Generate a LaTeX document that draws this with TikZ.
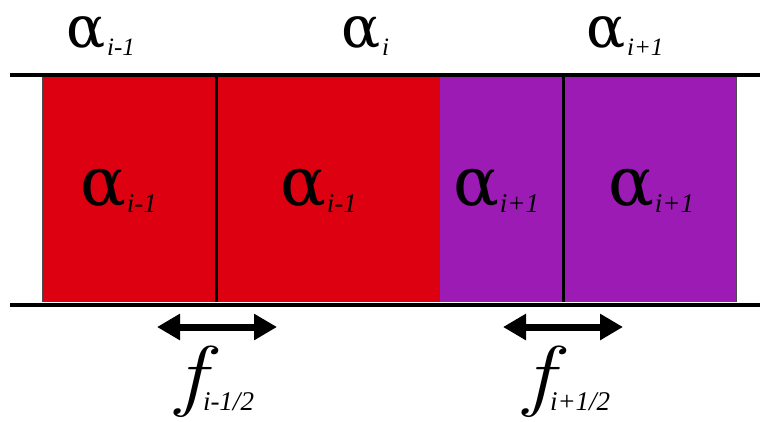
\documentclass[tikz,border=0pt]{standalone}
\usepackage{fontspec}
\setmainfont{Liberation Serif}
\newfontfamily\alphafont{DejaVu Serif}
\newfontfamily\ffont{Latin Modern Roman}
\usetikzlibrary{arrows.meta}
\definecolor{cellred}{RGB}{221,0,16}
\definecolor{cellpurple}{RGB}{155,27,180}
\newcommand{\toplab}[1]{\raisebox{0pt}[36pt][0pt]{\fontsize{58}{58}\alphafont α}\kern2pt\raisebox{-8pt}{\fontsize{25}{25}\selectfont\itshape #1}}
\newcommand{\inlab}[1]{\raisebox{0pt}[42pt][0pt]{\fontsize{68}{68}\alphafont α}\kern1pt\raisebox{-7pt}{\fontsize{27}{27}\selectfont\itshape #1}}
\newcommand{\fglyph}{\makebox[21pt][l]{\raisebox{0pt}[56pt][16pt]{\scalebox{1.2}[1]{\fontsize{79}{79}\ffont\itshape f}}}}
\begin{document}
\begin{tikzpicture}[x=1pt,y=-1pt,
  rail/.style={line width=4pt},
  divider/.style={line width=3pt},
  cellfill/.style={draw=black!70,line width=0.8pt},
  flux/.style={line width=7pt,{Triangle[length=23pt,width=25pt]}-{Triangle[length=23pt,width=25pt]}},
  lab/.style={anchor=base west,inner sep=0pt,outer sep=0pt},
  fsym/.style={lab},
  fsub/.style={lab,font=\fontsize{27}{27}\selectfont\itshape}]
\useasboundingbox (0,0) rectangle (760,421);
% cells
\fill[cellred] (42,77) rectangle (440,302);
\fill[cellpurple] (440,77) rectangle (736,302);
\draw[cellfill] (42,77) -- (42,302);
\draw[cellfill] (736,77) -- (736,302);
% rails
\coordinate (tl) at (10,75);
\coordinate (tr) at (760,75);
\coordinate (bl) at (10,304.5);
\coordinate (br) at (760,304.5);
\draw[rail] (tl) -- (tr);
\draw[rail] (bl) -- (br);
% dividers
\coordinate (d1t) at (216.5,77);
\coordinate (d1b) at (216.5,302);
\coordinate (d2t) at (563.5,77);
\coordinate (d2b) at (563.5,302);
\draw[divider] (d1t) -- (d1b);
\draw[divider] (d2t) -- (d2b);
% top labels
\node[lab] (t1) at (66,47) {\toplab{i-1}};
\node[lab] (t2) at (341,47) {\toplab{i}};
\node[lab] (t3) at (586,47) {\toplab{i+1}};
% inner labels
\node[lab] (c1) at (80,205) {\inlab{i-1}};
\node[lab] (c2) at (280,205) {\inlab{i-1}};
\node[lab] (c3) at (453,205) {\inlab{i+1}};
\node[lab] (c4) at (608,205) {\inlab{i+1}};
% flux arrows
\coordinate (a1l) at (157,327);
\coordinate (a1r) at (277,327);
\coordinate (a2l) at (503,327);
\coordinate (a2r) at (623,327);
\draw[flux] (a1l) -- (a1r);
\draw[flux] (a2l) -- (a2r);
% flux labels
\node[fsym] (f1) at (176,401) {\fglyph};
\node[fsub] (f1s) at (203,410) {i-1/2};
\node[fsym] (f2) at (524,401) {\fglyph};
\node[fsub] (f2s) at (550,410) {i+1/2};
\end{tikzpicture}
\end{document}
